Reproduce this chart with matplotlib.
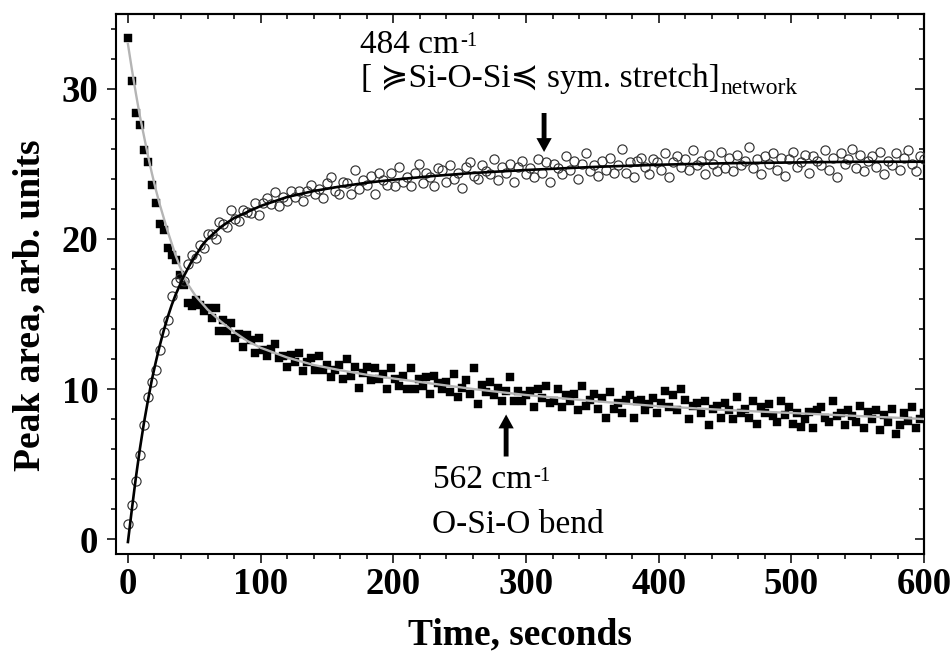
import matplotlib
matplotlib.use('Agg')
from matplotlib import pyplot as plt
from matplotlib.ticker import MultipleLocator

# acquisition times, seconds
time_s = [
    0, 3, 6, 9, 12, 15, 18, 21, 24, 27,
    30, 33, 36, 39, 42, 45, 48, 51, 54, 57,
    60, 63, 66, 69, 72, 75, 78, 81, 84, 87,
    90, 93, 96, 99, 102, 105, 108, 111, 114, 117,
    120, 123, 126, 129, 132, 135, 138, 141, 144, 147,
    150, 153, 156, 159, 162, 165, 168, 171, 174, 177,
    180, 183, 186, 189, 192, 195, 198, 201, 204, 207,
    210, 213, 216, 219, 222, 225, 228, 231, 234, 237,
    240, 243, 246, 249, 252, 255, 258, 261, 264, 267,
    270, 273, 276, 279, 282, 285, 288, 291, 294, 297,
    300, 303, 306, 309, 312, 315, 318, 321, 324, 327,
    330, 333, 336, 339, 342, 345, 348, 351, 354, 357,
    360, 363, 366, 369, 372, 375, 378, 381, 384, 387,
    390, 393, 396, 399, 402, 405, 408, 411, 414, 417,
    420, 423, 426, 429, 432, 435, 438, 441, 444, 447,
    450, 453, 456, 459, 462, 465, 468, 471, 474, 477,
    480, 483, 486, 489, 492, 495, 498, 501, 504, 507,
    510, 513, 516, 519, 522, 525, 528, 531, 534, 537,
    540, 543, 546, 549, 552, 555, 558, 561, 564, 567,
    570, 573, 576, 579, 582, 585, 588, 591, 594, 597,
    600,
]

# 484 cm-1 band (open circles)
area_484 = [
    1.0, 2.3, 3.9, 5.6, 7.6, 9.5, 10.5, 11.3, 12.6, 13.8,
    14.6, 16.2, 17.1, 17.4, 17.2, 18.3, 18.9, 18.7, 19.6, 19.4,
    20.3, 20.3, 20.0, 21.1, 21.0, 20.8, 21.9, 21.3, 21.2, 21.9,
    21.8, 21.7, 22.4, 21.6, 22.4, 22.7, 22.3, 23.1, 22.2, 22.8,
    22.5, 23.2, 22.8, 23.2, 22.5, 23.2, 23.6, 23.0, 23.3, 22.7,
    23.7, 24.1, 23.2, 23.0, 23.8, 23.7, 23.0, 24.6, 23.3, 23.9,
    23.6, 24.2, 23.0, 24.4, 23.9, 23.6, 24.4, 23.5, 24.8, 23.8,
    24.1, 23.5, 24.4, 25.0, 23.7, 24.4, 24.1, 23.5, 24.7, 24.6,
    23.8, 24.9, 24.0, 24.4, 23.4, 24.8, 25.1, 24.2, 24.0, 24.9,
    24.5, 24.3, 25.3, 23.9, 24.8, 24.4, 25.0, 23.8, 24.8, 25.2,
    24.3, 24.7, 24.1, 25.3, 24.4, 25.1, 23.8, 25.0, 24.7, 24.3,
    25.5, 24.6, 25.2, 24.0, 25.0, 25.7, 24.5, 24.9, 24.2, 25.2,
    24.6, 25.4, 24.4, 24.9, 26.0, 24.4, 25.1, 24.1, 25.2, 25.4,
    24.8, 24.3, 25.3, 25.1, 24.6, 25.7, 24.1, 25.1, 25.5, 24.8,
    25.3, 24.6, 25.9, 24.9, 25.2, 24.3, 25.6, 25.0, 24.5, 25.8,
    24.7, 25.4, 24.5, 25.6, 24.9, 25.2, 26.1, 24.7, 25.3, 24.3,
    25.5, 25.0, 25.7, 24.6, 25.4, 24.2, 25.3, 25.8, 24.8, 25.1,
    25.6, 24.4, 25.5, 25.2, 24.9, 25.9, 24.6, 25.4, 24.1, 25.7,
    25.0, 25.3, 26.0, 24.7, 25.6, 24.5, 25.2, 25.5, 24.8, 25.8,
    24.3, 25.2, 24.9, 25.7, 24.6, 25.4, 25.9, 25.0, 24.5, 25.5,
    25.3,
]

# 562 cm-1 band (filled squares)
area_562 = [
    33.4, 30.5, 28.4, 27.6, 25.9, 25.1, 23.6, 22.4, 21.0, 20.6,
    19.4, 18.9, 18.6, 17.6, 16.9, 15.7, 15.5, 15.9, 15.6, 15.2,
    15.4, 14.7, 15.4, 13.9, 14.6, 13.9, 14.4, 13.4, 13.7, 12.8,
    13.6, 13.3, 12.4, 13.4, 12.6, 12.2, 12.7, 13.0, 12.1, 12.2,
    11.5, 12.3, 11.8, 12.4, 11.2, 11.8, 12.1, 11.3, 12.2, 11.3,
    11.6, 10.8, 11.3, 11.6, 10.7, 12.0, 10.9, 11.5, 10.1, 11.1,
    11.5, 10.6, 11.4, 10.7, 11.0, 10.0, 11.4, 10.7, 10.2, 10.9,
    10.0, 11.4, 10.0, 10.7, 10.2, 10.8, 9.7, 10.9, 10.4, 10.0,
    10.5, 9.8, 11.0, 9.5, 10.1, 10.6, 9.7, 11.4, 9.0, 10.3,
    9.8, 10.5, 9.6, 10.1, 9.2, 9.9, 10.8, 9.2, 9.9, 9.2,
    9.6, 9.9, 8.8, 10.0, 9.4, 10.2, 9.1, 9.2, 10.0, 8.8,
    9.6, 9.2, 9.7, 8.6, 10.2, 8.9, 9.3, 9.7, 8.7, 9.4,
    8.1, 9.8, 8.7, 9.1, 8.4, 9.3, 9.6, 8.1, 9.2, 9.3,
    8.6, 9.0, 9.4, 8.4, 9.1, 9.9, 8.8, 9.6, 8.6, 10.0,
    9.3, 8.0, 8.9, 9.1, 8.4, 9.2, 7.6, 8.7, 8.9, 8.1,
    9.1, 8.6, 8.0, 9.5, 8.4, 8.7, 8.1, 9.2, 7.7, 8.8,
    8.4, 9.0, 8.2, 7.8, 9.2, 8.3, 8.8, 7.7, 8.4, 7.5,
    8.0, 8.5, 7.4, 8.6, 8.8, 8.1, 7.8, 9.2, 8.2, 8.4,
    7.6, 8.6, 8.2, 7.8, 8.9, 7.4, 8.5, 8.0, 8.6, 7.3,
    8.3, 7.8, 8.7, 7.0, 7.6, 8.4, 7.9, 8.8, 7.4, 8.0,
    8.4,
]

# fitted curves
fit_time = [0, 3, 6, 9, 12, 15, 18, 21, 24, 27, 30, 33, 36, 39, 42, 45, 48,
            51, 54, 57, 60, 70, 80, 90, 100, 120, 140, 160, 180, 200, 230,
            260, 300, 350, 400, 450, 500, 550, 600]
fit_484 = [-0.2, 2.0, 4.1, 6.0, 7.7, 9.2, 10.6, 11.8, 12.9, 13.9, 14.8, 15.6,
           16.3, 16.9, 17.5, 18.0, 18.5, 18.9, 19.3, 19.7, 20.0, 20.8, 21.4,
           21.8, 22.2, 22.8, 23.2, 23.5, 23.75, 23.95, 24.2, 24.4, 24.6,
           24.8, 24.95, 25.05, 25.1, 25.15, 25.15]
fit_562 = [33.0, 31.3, 29.7, 28.2, 26.9, 25.6, 24.4, 23.3, 22.3, 21.4, 20.5,
           19.7, 18.9, 18.2, 17.6, 17.0, 16.6, 16.2, 15.9, 15.6, 15.3, 14.5,
           13.8, 13.2, 12.75, 12.1, 11.6, 11.25, 10.95, 10.7, 10.35, 10.0,
           9.6, 9.2, 8.85, 8.6, 8.4, 8.2, 8.0]

SERIF = ['Liberation Serif', 'DejaVu Serif', 'DejaVu Sans']
plt.rcParams['font.family'] = SERIF

fig = plt.figure(figsize=(9.53, 6.54), dpi=100)
ax = fig.add_axes([0.1217, 0.1529, 0.848, 0.8257])

ax.plot(time_s, area_562, 's', ms=5.8, color='black', mec='black', mew=0.3, zorder=2)
ax.plot(time_s, area_484, 'o', ms=6.6, mfc='none', mec='#333333', mew=0.85, zorder=3)
ax.plot(fit_time, fit_562, color='#b4b4b4', lw=1.7, zorder=4)
ax.plot(fit_time, fit_484, color='black', lw=1.9, zorder=5)

ax.set_xlim(-9, 600)
ax.set_ylim(-1, 35)

# frame and ticks: outward on bottom/left, inward on top/right
for sp in ax.spines.values():
    sp.set_linewidth(1.5)
ax.xaxis.set_major_locator(MultipleLocator(100))
ax.xaxis.set_minor_locator(MultipleLocator(20))
ax.yaxis.set_major_locator(MultipleLocator(10))
ax.yaxis.set_minor_locator(MultipleLocator(2))
ax.tick_params(which='both', direction='out', width=1.1, top=False, right=False)
ax.tick_params(which='major', length=6.7)
ax.tick_params(which='minor', length=3.3)
ax.tick_params(axis='y', pad=6)
ax.tick_params(axis='x', pad=3)
for lab in ax.get_xticklabels() + ax.get_yticklabels():
    lab.set_fontsize(26.5)
    lab.set_fontweight('bold')

secx = ax.secondary_xaxis('top')
secx.xaxis.set_major_locator(MultipleLocator(100))
secx.xaxis.set_minor_locator(MultipleLocator(20))
secx.tick_params(which='both', direction='in', width=1.1, labeltop=False)
secx.tick_params(which='major', length=6.7)
secx.tick_params(which='minor', length=3.3)
secx.spines['top'].set_linewidth(1.5)

secy = ax.secondary_yaxis('right')
secy.yaxis.set_major_locator(MultipleLocator(10))
secy.yaxis.set_minor_locator(MultipleLocator(2))
secy.tick_params(which='both', direction='in', width=1.1, labelright=False)
secy.tick_params(which='major', length=6.7)
secy.tick_params(which='minor', length=3.3)
secy.spines['right'].set_linewidth(1.5)

ax.set_xlabel('Time, seconds', fontsize=27, fontweight='bold')
ax.set_ylabel('Peak area, arb. units', fontsize=27, fontweight='bold')
ax.xaxis.set_label_coords(0.5, -0.118)
ax.yaxis.set_label_coords(-0.085, 0.46)

# annotations
ann = dict(fontsize=24, color='black')
t1 = ax.text(175, 32.4, '484 cm', **ann)
ax.annotate('-1', xy=(1, 1), xycoords=t1, xytext=(1, -2),
            textcoords='offset points', va='top', ha='left', fontsize=15)
t2 = ax.text(176, 30.1, '[ \u227dSi-O-Si\u227c sym. stretch]', **ann)
ax.annotate('network', xy=(1, 0), xycoords=t2, xytext=(0, 0),
            textcoords='offset points', va='baseline', ha='left', fontsize=17)

t3 = ax.text(230, 3.4, '562 cm', **ann)
ax.annotate('-1', xy=(1, 1), xycoords=t3, xytext=(1, -2),
            textcoords='offset points', va='top', ha='left', fontsize=15)
ax.text(229, 0.42, 'O-Si-O bend', **ann)

arrow = dict(arrowstyle='simple,head_length=1.0,head_width=1.1,tail_width=0.35',
             mutation_scale=10, color='black', lw=0, shrinkA=0, shrinkB=0)
ax.annotate('', xy=(313.6, 25.8), xytext=(313.6, 28.4), arrowprops=arrow)
ax.annotate('', xy=(285, 8.3), xytext=(285, 5.5), arrowprops=arrow)

fig.savefig('out.png', dpi=100)
